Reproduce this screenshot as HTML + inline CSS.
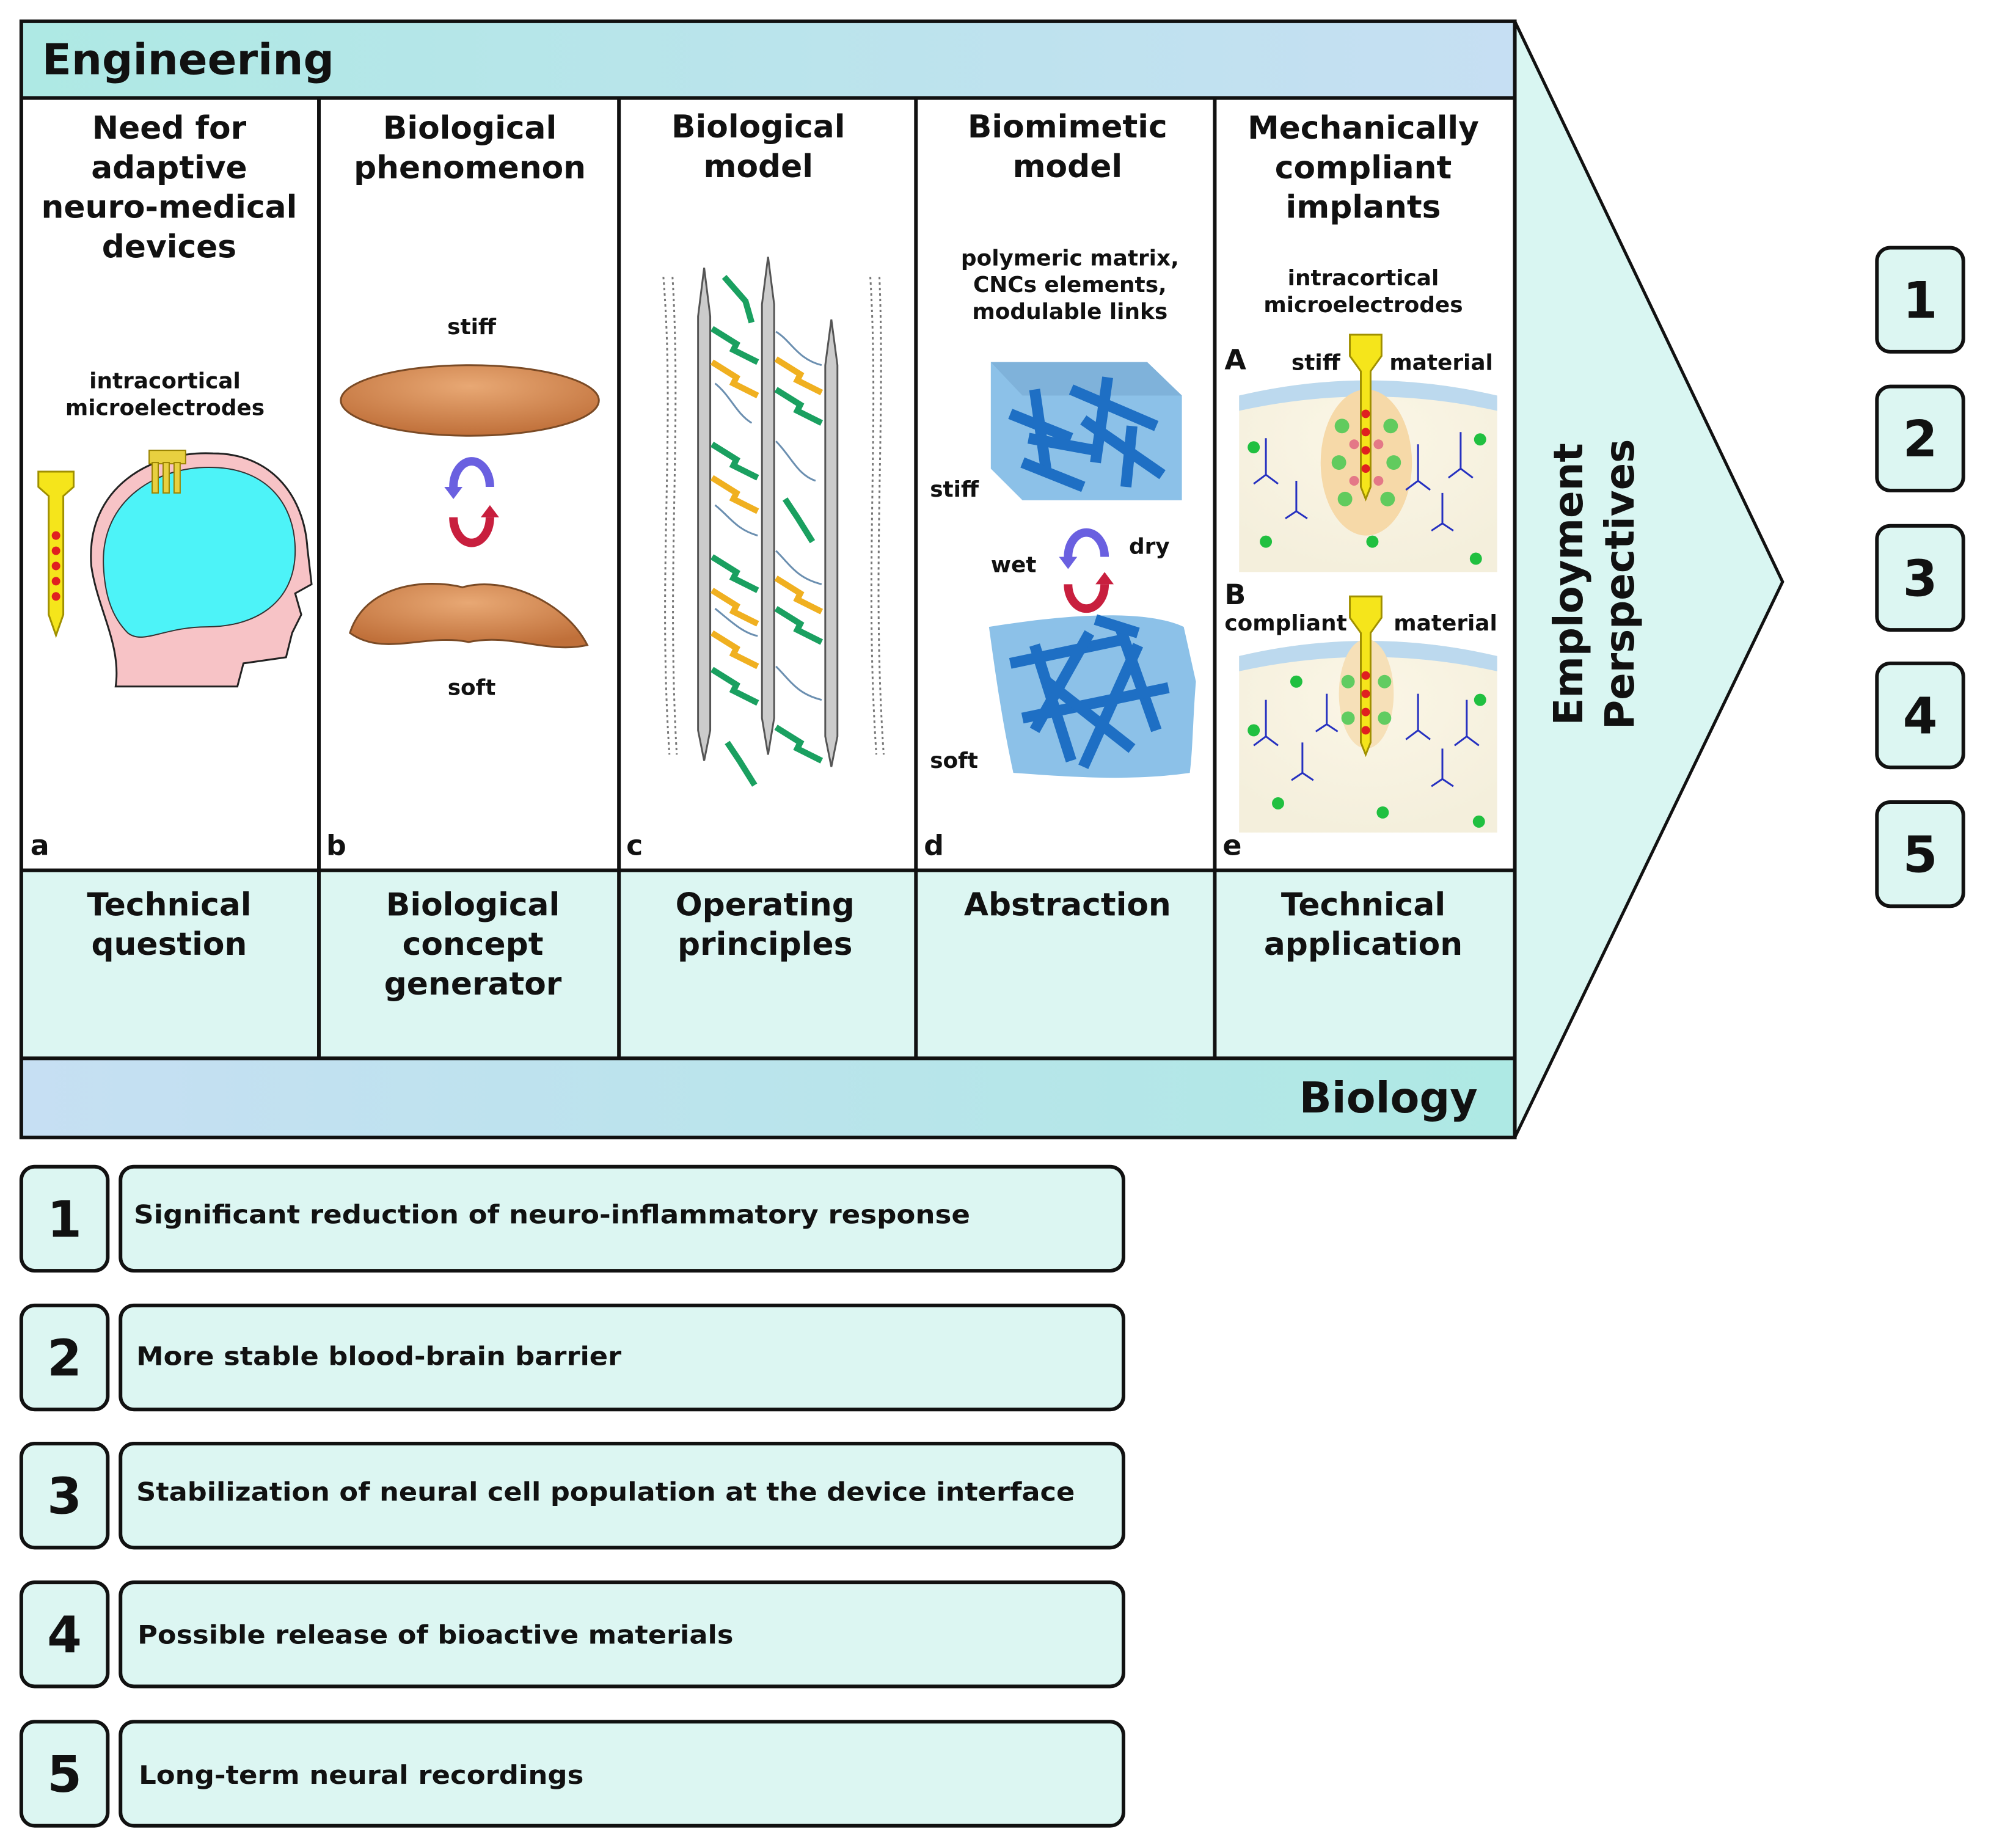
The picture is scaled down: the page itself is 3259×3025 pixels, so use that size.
<!DOCTYPE html>
<html><head><meta charset="utf-8"><style>
html,body{margin:0;padding:0;background:#fff}
svg{display:block}
text{font-family:"DejaVu Sans","Liberation Sans",sans-serif;font-weight:bold;fill:#111}
</style></head><body>
<svg width="3259" height="3025" viewBox="0 0 3259 3025" xmlns="http://www.w3.org/2000/svg">
<defs>
<linearGradient id="eng" x1="0" x2="1" y1="0" y2="0"><stop offset="0" stop-color="#aee9e4"/><stop offset="1" stop-color="#c6dff3"/></linearGradient>
<linearGradient id="bio" x1="0" x2="1" y1="0" y2="0"><stop offset="0" stop-color="#c6dff3"/><stop offset="1" stop-color="#aee9e4"/></linearGradient>
<radialGradient id="cuc" cx="0.5" cy="0.3" r="0.7"><stop offset="0" stop-color="#e8a874"/><stop offset="1" stop-color="#c0703a"/></radialGradient>
<radialGradient id="tis" cx="0.5" cy="0.3" r="0.7"><stop offset="0" stop-color="#fbf6e6"/><stop offset="1" stop-color="#f4efdc"/></radialGradient>
</defs>
<g transform="scale(0.9962)">
<!-- arrow -->
<polygon points="2489,35 2929,956 2489,1869" fill="#d9f6f2" stroke="#111" stroke-width="5"/>
<rect x="35" y="35" width="2454" height="126" fill="url(#eng)"/>
<rect x="35" y="1739" width="2454" height="130" fill="url(#bio)"/>
<rect x="35" y="161" width="2454" height="1269" fill="#fff"/>
<rect x="35" y="1430" width="2454" height="309" fill="#dcf6f2"/>
<g stroke="#111" stroke-width="6" fill="none">
<rect x="35" y="35" width="2454" height="1834"/>
<line x1="35" y1="161" x2="2489" y2="161"/>
<line x1="35" y1="1430" x2="2489" y2="1430"/>
<line x1="35" y1="1739" x2="2489" y2="1739"/>
<line x1="524" y1="161" x2="524" y2="1739"/>
<line x1="1017" y1="161" x2="1017" y2="1739"/>
<line x1="1505" y1="161" x2="1505" y2="1739"/>
<line x1="1996" y1="161" x2="1996" y2="1739"/>
</g>
<text x="69" y="122" font-size="70" textLength="480" lengthAdjust="spacingAndGlyphs">Engineering</text>
<text x="2428" y="1828" font-size="70" text-anchor="end">Biology</text>

<g font-size="52" text-anchor="middle">
<text x="278" y="228">Need for</text><text x="278" y="293">adaptive</text><text x="278" y="358">neuro-medical</text><text x="278" y="423">devices</text>
<text x="772" y="228">Biological</text><text x="772" y="293">phenomenon</text>
<text x="1246" y="226">Biological</text><text x="1246" y="291">model</text>
<text x="1754" y="226">Biomimetic</text><text x="1754" y="291">model</text>
<text x="2240" y="228">Mechanically</text><text x="2240" y="293">compliant</text><text x="2240" y="358">implants</text>
</g>
<g font-size="52" text-anchor="middle">
<text x="278" y="1504">Technical</text><text x="278" y="1569">question</text>
<text x="777" y="1504">Biological</text><text x="777" y="1569">concept</text><text x="777" y="1634">generator</text>
<text x="1257" y="1504">Operating</text><text x="1257" y="1569">principles</text>
<text x="1754" y="1504">Abstraction</text>
<text x="2240" y="1504">Technical</text><text x="2240" y="1569">application</text>
</g>
<g font-size="46">
<text x="50" y="1405">a</text><text x="536" y="1405">b</text><text x="1029" y="1405">c</text><text x="1518" y="1405">d</text><text x="2009" y="1405">e</text>
</g>

<!-- col a -->
<g font-size="36" text-anchor="middle"><text x="271" y="638">intracortical</text><text x="271" y="682">microelectrodes</text></g>
<path d="M63,775 L121,775 L121,800 L104,815 L104,1010 L92,1044 L80,1010 L80,815 L63,800 Z" fill="#f5e51b" stroke="#a09000" stroke-width="3"/>
<g fill="#e02020"><circle cx="92" cy="880" r="7"/><circle cx="92" cy="905" r="7"/><circle cx="92" cy="930" r="7"/><circle cx="92" cy="955" r="7"/><circle cx="92" cy="980" r="7"/></g>
<path d="M150,930 C140,800 250,740 350,745 C450,745 500,820 505,900 L512,960 L485,975 L495,1010 L480,1040 L470,1080 L400,1090 L390,1128 L190,1128 C200,1060 160,1000 150,930 Z" fill="#f7c3c6" stroke="#222" stroke-width="3"/>
<path d="M170,930 C165,820 260,765 350,768 C440,770 485,830 485,905 C485,990 420,1030 340,1030 C270,1030 235,1060 210,1040 C180,1010 172,970 170,930 Z" fill="#4df3f8" stroke="#333" stroke-width="2"/>
<g fill="#e8d040" stroke="#9a8300" stroke-width="2"><rect x="245" y="740" width="60" height="22"/><rect x="250" y="760" width="10" height="50"/><rect x="268" y="760" width="10" height="50"/><rect x="286" y="760" width="10" height="50"/></g>

<!-- col b -->
<g font-size="36" text-anchor="middle"><text x="775" y="549">stiff</text><text x="775" y="1142">soft</text></g>
<ellipse cx="772" cy="658" rx="212" ry="58" fill="url(#cuc)" stroke="#7a4a25" stroke-width="3"/>
<path d="M575,1040 C600,960 700,950 760,965 C830,945 930,990 965,1060 C900,1075 840,1040 770,1055 C700,1040 630,1080 575,1040 Z" fill="url(#cuc)" stroke="#7a4a25" stroke-width="3"/>
<path d="M745,800 A30,42 0 0 1 805,800" fill="none" stroke="#6a60e0" stroke-width="14"/>
<path d="M745,850 A30,42 0 0 0 805,850" fill="none" stroke="#c81f3e" stroke-width="14"/>
<polygon points="730,800 760,800 745,820" fill="#6a60e0"/><polygon points="790,850 820,850 805,830" fill="#c81f3e"/>

<!-- col c -->
<g stroke="#777" stroke-width="3" stroke-dasharray="4,5" fill="none">
<path d="M1090,455 C1110,700 1080,950 1100,1240"/><path d="M1105,455 C1120,700 1095,950 1112,1240"/>
<path d="M1430,455 C1445,700 1420,950 1440,1240"/><path d="M1445,455 C1455,700 1432,950 1452,1240"/>
</g>
<g fill="#ccc" stroke="#555" stroke-width="3">
<path d="M1157,440 L1167,520 L1167,1200 L1157,1250 L1147,1200 L1147,520 Z"/>
<path d="M1262,422 L1272,500 L1272,1180 L1262,1240 L1252,1180 L1252,500 Z"/>
<path d="M1366,525 L1376,600 L1376,1210 L1366,1260 L1356,1210 L1356,600 Z"/>
</g>
<g stroke="#1aa060" stroke-width="10" fill="none">
<path d="M1170,540 L1210,565 L1205,575 L1245,595"/><path d="M1170,730 L1210,755 L1205,765 L1245,785"/>
<path d="M1170,915 L1210,940 L1205,950 L1245,970"/><path d="M1170,1100 L1210,1125 L1205,1135 L1245,1155"/>
<path d="M1275,640 L1315,665 L1310,675 L1350,695"/><path d="M1275,1000 L1315,1025 L1310,1035 L1350,1055"/>
<path d="M1275,1195 L1315,1220 L1310,1230 L1350,1250"/><path d="M1190,455 L1225,495 L1235,530"/>
<path d="M1290,820 L1310,850 L1335,890"/><path d="M1195,1220 L1215,1250 L1240,1290"/>
</g>
<g stroke="#f0b020" stroke-width="10" fill="none">
<path d="M1170,595 L1210,620 L1205,630 L1245,650"/><path d="M1170,785 L1210,810 L1205,820 L1245,840"/>
<path d="M1170,970 L1210,995 L1205,1005 L1245,1025"/><path d="M1170,1040 L1210,1065 L1205,1075 L1245,1095"/>
<path d="M1275,590 L1315,615 L1310,625 L1350,645"/><path d="M1275,950 L1315,975 L1310,985 L1350,1005"/>
</g>
<g stroke="#6b8fb0" stroke-width="3" fill="none">
<path d="M1275,545 C1300,560 1310,590 1350,600"/><path d="M1175,630 C1200,650 1210,680 1235,695"/>
<path d="M1275,725 C1300,750 1310,780 1340,790"/><path d="M1175,830 C1200,850 1210,870 1245,880"/>
<path d="M1275,905 C1300,930 1310,950 1350,960"/><path d="M1275,1095 C1300,1120 1310,1140 1350,1150"/>
<path d="M1175,1000 C1200,1020 1220,1040 1245,1045"/>
</g>

<!-- col d -->
<g font-size="36" text-anchor="middle"><text x="1758" y="436">polymeric matrix,</text><text x="1758" y="480">CNCs elements,</text><text x="1758" y="524">modulable links</text></g>
<g font-size="36"><text x="1528" y="816">stiff</text><text x="1528" y="1262">soft</text><text x="1628" y="940">wet</text><text x="1855" y="910">dry</text></g>
<polygon points="1628,595 1885,595 1942,650 1942,822 1680,822 1628,770" fill="#8cc1e8"/>
<polygon points="1628,595 1885,595 1942,650 1680,650" fill="#7fb2da"/>
<path d="M1625,1030 C1750,1010 1880,1000 1945,1030 L1965,1120 C1960,1180 1960,1230 1955,1270 C1850,1285 1740,1275 1665,1270 C1650,1200 1640,1140 1625,1030 Z" fill="#8cc1e8"/>
<g stroke="#1e6fc4" stroke-width="18" stroke-linecap="butt">
<line x1="1660" y1="680" x2="1760" y2="720"/><line x1="1700" y1="640" x2="1720" y2="780"/><line x1="1760" y1="640" x2="1900" y2="700"/>
<line x1="1820" y1="620" x2="1800" y2="760"/><line x1="1680" y1="760" x2="1780" y2="800"/><line x1="1780" y1="690" x2="1910" y2="780"/>
<line x1="1860" y1="700" x2="1850" y2="800"/><line x1="1690" y1="720" x2="1800" y2="740"/>
<line x1="1660" y1="1090" x2="1850" y2="1050"/><line x1="1700" y1="1060" x2="1760" y2="1250"/><line x1="1790" y1="1040" x2="1700" y2="1200"/>
<line x1="1840" y1="1030" x2="1900" y2="1200"/><line x1="1680" y1="1180" x2="1920" y2="1130"/><line x1="1870" y1="1060" x2="1780" y2="1260"/>
<line x1="1720" y1="1120" x2="1860" y2="1230"/><line x1="1800" y1="1018" x2="1870" y2="1040"/>
</g>
<path d="M1755,915 A30,40 0 0 1 1815,915" fill="none" stroke="#6a60e0" stroke-width="14"/>
<path d="M1755,960 A30,40 0 0 0 1815,960" fill="none" stroke="#c81f3e" stroke-width="14"/>
<polygon points="1740,915 1770,915 1755,935" fill="#6a60e0"/><polygon points="1800,960 1830,960 1815,940" fill="#c81f3e"/>

<!-- col e -->
<g font-size="36" text-anchor="middle"><text x="2240" y="469">intracortical</text><text x="2240" y="513">microelectrodes</text></g>
<g font-size="36"><text x="2012" y="607" font-size="46">A</text><text x="2122" y="608">stiff</text><text x="2283" y="608">material</text>
<text x="2012" y="993" font-size="46">B</text><text x="2012" y="1036">compliant</text><text x="2290" y="1036">material</text></g>
<path d="M2036,650 Q2248,600 2460,650 L2460,940 L2036,940 Z" fill="url(#tis)"/>
<path d="M2036,650 Q2248,600 2460,650 L2460,675 Q2248,628 2036,675 Z" fill="#bcd9ee"/>
<ellipse cx="2245" cy="760" rx="75" ry="120" fill="#f6d9a8"/>
<path d="M2036,1078 Q2248,1028 2460,1078 L2460,1368 L2036,1368 Z" fill="url(#tis)"/>
<path d="M2036,1078 Q2248,1028 2460,1078 L2460,1103 Q2248,1056 2036,1103 Z" fill="#bcd9ee"/>
<ellipse cx="2245" cy="1140" rx="45" ry="90" fill="#f6e0b8"/>
<g fill="#f5e51b" stroke="#a09000" stroke-width="3">
<path d="M2218,550 L2270,550 L2270,585 L2252,610 L2252,800 L2244,820 L2236,800 L2236,610 L2218,585 Z"/>
<path d="M2218,980 L2270,980 L2270,1015 L2252,1040 L2252,1220 L2244,1240 L2236,1220 L2236,1040 L2218,1015 Z"/>
</g>
<g fill="#e02020"><circle cx="2244" cy="680" r="7"/><circle cx="2244" cy="710" r="7"/><circle cx="2244" cy="740" r="7"/><circle cx="2244" cy="770" r="7"/>
<circle cx="2244" cy="1110" r="7"/><circle cx="2244" cy="1140" r="7"/><circle cx="2244" cy="1170" r="7"/><circle cx="2244" cy="1200" r="7"/></g>
<g stroke="#2530c0" stroke-width="3" fill="none">
<path d="M2080,780 l0,-60 M2080,780 l-20,15 M2080,780 l20,15 M2330,790 l0,-60 M2330,790 l-20,15 M2330,790 l20,15 M2400,770 l0,-60 M2400,770 l-20,15 M2400,770 l20,15 M2130,840 l0,-50 M2130,840 l-18,12 M2130,840 l18,12 M2370,860 l0,-50 M2370,860 l-18,12 M2370,860 l18,12"/>
<path d="M2080,1210 l0,-60 M2080,1210 l-20,15 M2080,1210 l20,15 M2330,1200 l0,-60 M2330,1200 l-20,15 M2330,1200 l20,15 M2410,1210 l0,-60 M2410,1210 l-20,15 M2410,1210 l20,15 M2140,1270 l0,-50 M2140,1270 l-18,12 M2140,1270 l18,12 M2370,1280 l0,-50 M2370,1280 l-18,12 M2370,1280 l18,12 M2180,1190 l0,-50 M2180,1190 l-18,12 M2180,1190 l18,12"/>
</g>
<g fill="#20c040"><circle cx="2060" cy="735" r="10"/><circle cx="2432" cy="722" r="10"/><circle cx="2255" cy="890" r="10"/><circle cx="2080" cy="890" r="10"/><circle cx="2425" cy="918" r="10"/>
<circle cx="2060" cy="1200" r="10"/><circle cx="2432" cy="1150" r="10"/><circle cx="2272" cy="1335" r="10"/><circle cx="2100" cy="1320" r="10"/><circle cx="2430" cy="1350" r="10"/><circle cx="2130" cy="1120" r="10"/></g>
<g fill="#3cc84c" opacity="0.8"><circle cx="2205" cy="700" r="12"/><circle cx="2285" cy="700" r="12"/><circle cx="2200" cy="760" r="12"/><circle cx="2290" cy="760" r="12"/><circle cx="2210" cy="820" r="12"/><circle cx="2280" cy="820" r="12"/>
<circle cx="2215" cy="1120" r="11"/><circle cx="2275" cy="1120" r="11"/><circle cx="2215" cy="1180" r="11"/><circle cx="2275" cy="1180" r="11"/></g>
<g fill="#e06080" opacity="0.8"><circle cx="2225" cy="730" r="8"/><circle cx="2265" cy="730" r="8"/><circle cx="2225" cy="790" r="8"/><circle cx="2265" cy="790" r="8"/></g>

<g font-size="66" text-anchor="middle">
<text transform="translate(2600,960) rotate(-90)">Employment</text>
<text transform="translate(2684,960) rotate(-90)">Perspectives</text>
</g>

<g fill="#dcf6f2" stroke="#111" stroke-width="6">
<rect x="3084" y="407" width="142" height="171" rx="22"/>
<rect x="3084" y="635" width="142" height="171" rx="22"/>
<rect x="3084" y="864" width="142" height="171" rx="22"/>
<rect x="3084" y="1090" width="142" height="171" rx="22"/>
<rect x="3084" y="1318" width="142" height="171" rx="22"/>
</g>
<g font-size="82" text-anchor="middle">
<text x="3155" y="522">1</text><text x="3155" y="750">2</text><text x="3155" y="979">3</text><text x="3155" y="1205">4</text><text x="3155" y="1433">5</text>
</g>

<g fill="#dcf6f2" stroke="#111" stroke-width="6">
<rect x="35" y="1917" width="142" height="171" rx="22"/><rect x="198" y="1917" width="1648" height="171" rx="22"/>
<rect x="35" y="2145" width="142" height="171" rx="22"/><rect x="198" y="2145" width="1648" height="171" rx="22"/>
<rect x="35" y="2372" width="142" height="171" rx="22"/><rect x="198" y="2372" width="1648" height="171" rx="22"/>
<rect x="35" y="2600" width="142" height="171" rx="22"/><rect x="198" y="2600" width="1648" height="171" rx="22"/>
<rect x="35" y="2829" width="142" height="171" rx="22"/><rect x="198" y="2829" width="1648" height="171" rx="22"/>
</g>
<g font-size="82" text-anchor="middle">
<text x="106" y="2032">1</text><text x="106" y="2260">2</text><text x="106" y="2487">3</text><text x="106" y="2715">4</text><text x="106" y="2944">5</text>
</g>
<g font-size="42">
<text x="220" y="2010" textLength="1374" lengthAdjust="spacingAndGlyphs">Significant reduction of neuro-inflammatory response</text>
<text x="224" y="2243" textLength="797" lengthAdjust="spacingAndGlyphs">More stable blood-brain barrier</text>
<text x="224" y="2466" textLength="1542" lengthAdjust="spacingAndGlyphs">Stabilization of neural cell population at the device interface</text>
<text x="226" y="2701" textLength="979" lengthAdjust="spacingAndGlyphs">Possible release of bioactive materials</text>
<text x="228" y="2931" textLength="731" lengthAdjust="spacingAndGlyphs">Long-term neural recordings</text>
</g>
</g>
</svg>
</body></html>
